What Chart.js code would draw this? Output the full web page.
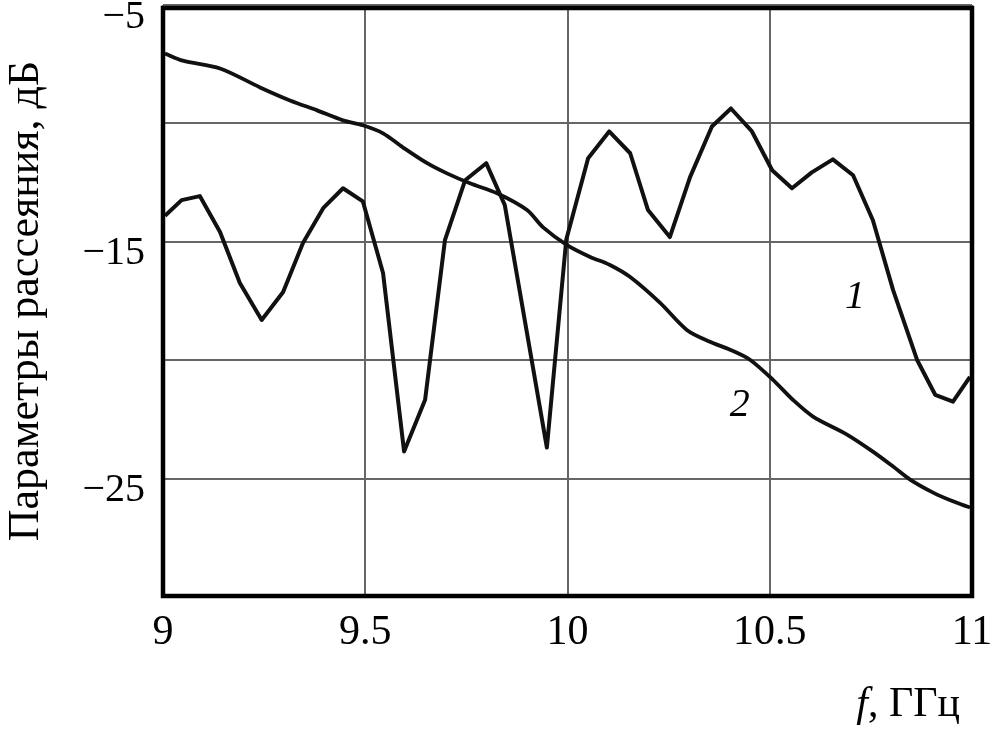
<!DOCTYPE html>
<html>
<head>
<meta charset="utf-8">
<script src="https://cdn.jsdelivr.net/npm/chart.js@4/dist/chart.umd.min.js"></script>
<style>
  html, body { margin: 0; padding: 0; background: #fff; }
  #wrap { width: 998px; height: 749px; position: relative; }
</style>
</head>
<body>
<div id="wrap"><canvas id="c" width="998" height="749"></canvas></div>
<script>
// Curve 1 (frequency GHz, dB)
const freq1 = [9.005, 9.046, 9.091, 9.141, 9.190, 9.244, 9.297, 9.346, 9.396, 9.445, 9.494,
  9.544, 9.596, 9.648, 9.697, 9.747, 9.799, 9.845, 9.949, 9.997, 10.051, 10.103, 10.155,
  10.199, 10.253, 10.303, 10.357, 10.404, 10.456, 10.506, 10.555, 10.604, 10.656, 10.706,
  10.755, 10.805, 10.864, 10.909, 10.953, 10.995];
const s1 = [-13.9, -13.24, -13.07, -14.59, -16.74, -18.30, -17.12, -15.05, -13.58, -12.74, -13.29,
  -16.32, -23.86, -21.67, -14.93, -12.40, -11.68, -13.45, -23.69, -14.9, -11.47, -10.34, -11.26,
  -13.66, -14.80, -12.27, -10.13, -9.37, -10.34, -11.98, -12.74, -12.07, -11.52, -12.19,
  -14.09, -17.04, -19.98, -21.46, -21.75, -20.70];
// Curve 2
const freq2 = [9.005, 9.049, 9.141, 9.240, 9.314, 9.381, 9.445, 9.494, 9.544, 9.593, 9.653,
  9.702, 9.759, 9.826, 9.900, 9.939, 9.999, 10.056, 10.105, 10.155, 10.229, 10.295, 10.352,
  10.402, 10.451, 10.508, 10.557, 10.607, 10.691, 10.755, 10.805, 10.847, 10.904, 10.953, 10.995];
const s2 = [-7.05, -7.35, -7.68, -8.48, -9.03, -9.45, -9.87, -10.08, -10.42, -11.01, -11.68,
  -12.11, -12.53, -12.95, -13.66, -14.38, -15.14, -15.64, -15.98, -16.49, -17.58, -18.72, -19.22,
  -19.56, -19.98, -20.83, -21.67, -22.38, -23.14, -23.86, -24.49, -25.04, -25.59, -25.96, -26.22];
// Axes
const xTicks = [9, 9.5, 10, 10.5, 11];
const xTickLabels = ['9', '9.5', '10', '10.5', '11'];
const yLabelled = [-5, -15, -25];
const yTitle = 'Параметры рассеяния, дБ';
const xTitleItalic = 'f';
const xTitleRest = ', ГГц';
const curveLabels = [{ text: '1', x: 10.711, y: -17.37 }, { text: '2', x: 10.426, y: -21.9 }];

const SERIF = '"Liberation Serif", "Times New Roman", serif';

const frame = {
  id: 'frame',
  afterDraw(chart) {
    const { ctx, chartArea: a, scales: { x, y } } = chart;
    ctx.save();
    ctx.strokeStyle = '#000';
    ctx.lineWidth = 4.5;
    ctx.strokeRect(a.left, a.top + 3, a.right - a.left, a.bottom - a.top - 4);
    // curve labels
    ctx.fillStyle = '#000';
    ctx.font = 'italic 40px ' + SERIF;
    ctx.textAlign = 'center';
    ctx.textBaseline = 'middle';
    curveLabels.forEach(l => ctx.fillText(l.text, x.getPixelForValue(l.x), y.getPixelForValue(l.y)));
    // x title
    ctx.textBaseline = 'alphabetic';
    ctx.textAlign = 'left';
    ctx.font = '42px ' + SERIF;
    const restW = ctx.measureText(xTitleRest).width;
    const endX = a.right - 12;
    const baseY = 716;
    ctx.fillText(xTitleRest, endX - restW, baseY);
    ctx.font = 'italic 42px ' + SERIF;
    const fW = ctx.measureText(xTitleItalic).width;
    ctx.fillText(xTitleItalic, endX - restW - fW, baseY);
    ctx.restore();
  }
};

new Chart(document.getElementById('c'), {
  type: 'scatter',
  data: {
    datasets: [
      {
        label: '1',
        data: freq1.map((f, i) => ({ x: f, y: s1[i] })),
        showLine: true, borderColor: '#111', borderWidth: 4, pointRadius: 0, tension: 0,
        borderJoinStyle: 'round'
      },
      {
        label: '2',
        data: freq2.map((f, i) => ({ x: f, y: s2[i] })),
        showLine: true, borderColor: '#111', borderWidth: 3.8, pointRadius: 0, tension: 0.3,
        borderJoinStyle: 'round'
      }
    ]
  },
  options: {
    responsive: false,
    animation: false,
    layout: { padding: { left: 0, right: 26, top: 5, bottom: 0 } },
    plugins: { legend: { display: false }, tooltip: { enabled: false } },
    scales: {
      x: {
        type: 'linear', min: 9, max: 11,
        afterBuildTicks(scale) { scale.ticks = xTicks.map(v => ({ value: v })); },
        afterFit(scale) { scale.height = 152; scale.paddingLeft = 0; scale.paddingRight = 0; },
        ticks: {
          color: '#000', font: { family: SERIF, size: 42 }, padding: 11, maxRotation: 0,
          callback: (v) => { const i = xTicks.indexOf(v); return i >= 0 ? xTickLabels[i] : ''; }
        },
        grid: { color: '#666', lineWidth: 2, drawTicks: false },
        border: { display: false }
      },
      y: {
        type: 'linear', min: -30, max: -5,
        afterFit(scale) { scale.width = 163; scale.paddingTop = 0; scale.paddingBottom = 0; },
        ticks: {
          stepSize: 5, color: '#000', font: { family: SERIF, size: 40 }, padding: 18, labelOffset: 12,
          callback: (v) => yLabelled.includes(v) ? '\u2212' + Math.abs(v) : ''
        },
        grid: { color: '#666', lineWidth: 2, drawTicks: false },
        border: { display: false },
        title: { display: true, text: yTitle, color: '#000', font: { family: SERIF, size: 44 }, padding: { top: 0, bottom: 0 } }
      }
    }
  },
  plugins: [frame]
});
</script>
</body>
</html>
